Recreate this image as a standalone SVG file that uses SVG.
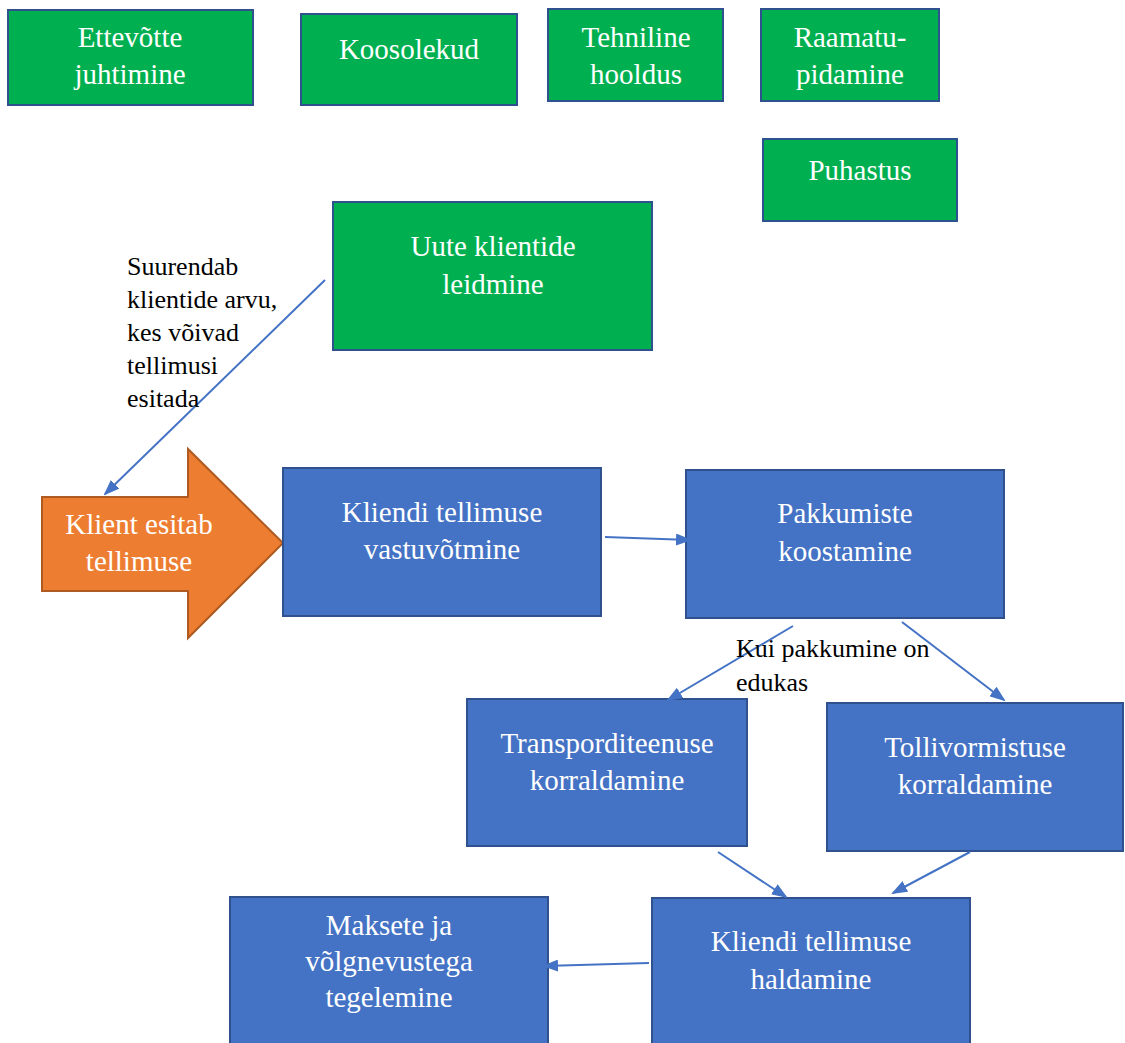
<svg xmlns="http://www.w3.org/2000/svg" width="1125" height="1043" viewBox="0 0 1125 1043">
<style>
.g{fill:#00B050;stroke:#2F528F;stroke-width:2}
.b{fill:#4472C4;stroke:#2F528F;stroke-width:2}
.t{font-family:'Liberation Serif',serif;font-size:29px;fill:#fff;text-anchor:middle}
.l{font-family:'Liberation Serif',serif;font-size:26px;fill:#000}
.c{stroke:#4472C4;stroke-width:2;fill:none;marker-end:url(#ah)}
</style>
<defs>
<marker id="ah" markerWidth="16" markerHeight="12" refX="14" refY="6" orient="auto" markerUnits="userSpaceOnUse" viewBox="0 0 16 12">
<path d="M0,0 L16,6 L0,12 z" fill="#4472C4"/>
</marker>
</defs>
<rect width="1125" height="1043" fill="#fff"/>
<g id="n1"><rect class="g" x="8" y="10" width="245" height="95"/><text class="t" x="130" y="47">Ettevõtte</text><text class="t" x="130" y="84">juhtimine</text></g>
<g id="n2"><rect class="g" x="301" y="14" width="216" height="91"/><text class="t" x="409" y="59">Koosolekud</text></g>
<g id="n3"><rect class="g" x="548" y="9" width="175" height="92"/><text class="t" x="636" y="47">Tehniline</text><text class="t" x="636" y="84">hooldus</text></g>
<g id="n4"><rect class="g" x="761" y="9" width="178" height="92"/><text class="t" x="850" y="47">Raamatu-</text><text class="t" x="850" y="84">pidamine</text></g>
<g id="n5"><rect class="g" x="763" y="139" width="194" height="82"/><text class="t" x="860" y="180">Puhastus</text></g>
<g id="n6"><rect class="g" x="333" y="202" width="319" height="148"/><text class="t" x="493" y="256">Uute klientide</text><text class="t" x="493" y="294">leidmine</text></g>
<g id="n7"><path d="M42,497 L188,497 L188,449 L283,543 L188,638 L188,591 L42,591 Z" fill="#ED7D31" stroke="#AE5A21" stroke-width="2"/><text class="t" x="139" y="534">Klient esitab</text><text class="t" x="139" y="571">tellimuse</text></g>
<g id="n8"><rect class="b" x="283" y="468" width="318" height="148"/><text class="t" x="442" y="522">Kliendi tellimuse</text><text class="t" x="442" y="559">vastuvõtmine</text></g>
<g id="n9"><rect class="b" x="686" y="470" width="318" height="148"/><text class="t" x="845" y="523">Pakkumiste</text><text class="t" x="845" y="561">koostamine</text></g>
<g id="n10"><rect class="b" x="467" y="699" width="280" height="147"/><text class="t" x="607" y="753">Transporditeenuse</text><text class="t" x="607" y="790">korraldamine</text></g>
<g id="n11"><rect class="b" x="827" y="703" width="296" height="148"/><text class="t" x="975" y="757">Tollivormistuse</text><text class="t" x="975" y="794">korraldamine</text></g>
<g id="n12"><rect class="b" x="230" y="897" width="318" height="150"/><text class="t" x="389" y="935">Maksete ja</text><text class="t" x="389" y="971">võlgnevustega</text><text class="t" x="389" y="1007">tegelemine</text></g>
<g id="n13"><rect class="b" x="652" y="898" width="318" height="150"/><text class="t" x="811" y="951">Kliendi tellimuse</text><text class="t" x="811" y="989">haldamine</text></g>
<g id="connectors">
<line class="c" x1="325" y1="280" x2="105" y2="494"/>
<line class="c" x1="605" y1="537" x2="690" y2="540"/>
<line class="c" x1="793" y1="626" x2="668" y2="700"/>
<line class="c" x1="902" y1="622" x2="1004" y2="700"/>
<line class="c" x1="718" y1="852" x2="786" y2="897"/>
<line class="c" x1="970" y1="852" x2="893" y2="893"/>
<line class="c" x1="649" y1="963" x2="544" y2="966"/>
</g>
<g id="labels">
<text class="l" x="127" y="275">Suurendab</text>
<text class="l" x="127" y="308">klientide arvu,</text>
<text class="l" x="127" y="341">kes võivad</text>
<text class="l" x="127" y="374">tellimusi</text>
<text class="l" x="127" y="407">esitada</text>
<text class="l" x="736" y="657">Kui pakkumine on</text>
<text class="l" x="736" y="691">edukas</text>
</g>
</svg>
